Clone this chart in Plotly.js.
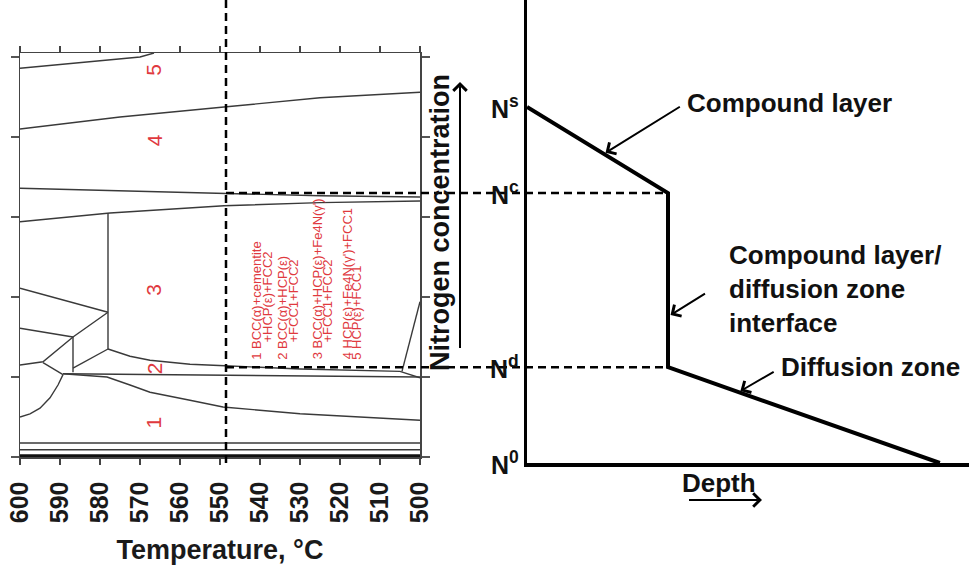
<!DOCTYPE html>
<html><head><meta charset="utf-8">
<script src="https://cdn.plot.ly/plotly-3.0.1.min.js"></script>
<style>html,body{margin:0;padding:0;background:#fff}#chart{width:969px;height:566px}</style>
</head><body><div id="chart"></div>
<script>
// ================= DATA =================
const tempTicks = [600,590,580,570,560,550,540,530,520,510,500];
const levelTicks = [0,1,2,3,4,5];
const sectionTemp = 548.5;            // dashed isothermal section
// phase boundaries: temperature (°C) and nitrogen level (arbitrary units)
const b1T=[600,570,566.5],               b1N=[4.86,5.0,5.05];
const b2T=[600,575,549,525,500],         b2N=[4.10,4.25,4.375,4.49,4.56];
const b3T=[600,575,549,525,500],         b3N=[3.36,3.33,3.29,3.265,3.25];
const b4T=[600,577.5,549,525,500],       b4N=[2.94,3.05,3.14,3.18,3.20];
const b5T=[578,578],                     b5N=[3.05,1.35];
const b6T=[600,578],                     b6N=[2.11,1.81];
const b7T=[600,586.75],                  b7N=[1.61,1.50];
const b8T=[578,586.75,594.25,600],       b8N=[1.81,1.50,1.19,1.15];
const b9T=[586.75,586.75],               b9N=[1.50,1.06];
const b10T=[594.25,589.25],              b10N=[1.18,1.03];
const b11T=[578,586.75],                 b11N=[1.35,1.11];
const b12T=[589.25,590.5,592.5,595,597.5,600], b12N=[1.03,0.90,0.74,0.61,0.54,0.50];
const b13T=[578,572.5,567.5,557.5,548.75,530,505,500], b13N=[1.35,1.26,1.21,1.16,1.14,1.10,1.07,0.99];
const b14T=[504.5,500],                  b14N=[1.07,1.94];
const b15T=[589.25,500],                 b15N=[1.04,1.0];
const b16T=[589.25,578.25,572.5,567.5,557.5,549.25,530,500], b16N=[1.04,1.0,0.90,0.81,0.71,0.625,0.54,0.46];
const b17T=[600,500],                    b17N=[0.175,0.175];
const b18T=[600,500],                    b18N=[0.09,0.09];
const b19T=[600,500],                    b19N=[0.015,0.015];
const regionIds=['1','2','3','4','5'];
const regionT=[566.5,566.5,566.5,566.5,566.5];
const regionN=[0.43,1.11,2.09,3.96,4.84];
const phaseKey=['1 BCC(α)+cementite','+HCP(ε)+FCC2','2 BCC(α)+HCP(ε)','+FCC1+FCC2',
  "3 BCC(α)+HCP(ε)+Fe4N(γ')",'+FCC1+FCC2',"4 HCP(ε)+Fe4N(γ')+FCC1",'5 HCP(ε)+FCC1'];
const phaseKeyT=[540.75,538.25,534.25,531.75,525.75,523.25,518.25,515.75];
const phaseKeyN=[1.19,1.40,1.19,1.40,1.19,1.40,1.19,1.19];
// nitrogen concentration profile vs depth (arbitrary units)
const depth=[0,3.19,3.19,9.34];
const nitrogen=[7.69,5.83,2.07,0];
const levelLabels=['N<sup>s</sup>','N<sup>c</sup>','N<sup>d</sup>','N<sup>0</sup>'];

// ================= CHART =================
const FONT='Liberation Sans, Arial, sans-serif';
const lineCol='#3a3a3a', red='#e0393e';
const boundaries=[[b1T,b1N],[b2T,b2N],[b3T,b3N],[b4T,b4N],[b5T,b5N],[b6T,b6N],[b7T,b7N],[b8T,b8N],
  [b9T,b9N],[b10T,b10N],[b11T,b11N],[b12T,b12N],[b13T,b13N],[b14T,b14N],[b15T,b15N],[b16T,b16N],[b17T,b17N],[b18T,b18N]];
const traces=boundaries.map(b=>({x:b[0],y:b[1],type:'scatter',mode:'lines',xaxis:'x',yaxis:'y',
  line:{color:lineCol,width:1.4},hoverinfo:'skip'}));
traces.push({x:b19T,y:b19N,type:'scatter',mode:'lines',xaxis:'x',yaxis:'y',line:{color:'#111',width:3},hoverinfo:'skip'});
traces.push({x:depth,y:nitrogen,type:'scatter',mode:'lines',xaxis:'x2',yaxis:'y2',line:{color:'#000',width:4},hoverinfo:'skip'});

const W=969,H=566;
const xa={domain:[20/W,420/W],range:[600,500]};
const ya={domain:[109/H,513/H],range:[0,5.05]};
const x2a={domain:[527/W,1],range:[0,10]};
const y2a={domain:[103/H,1],range:[0,10]};
const toPaper=(ax,v)=>ax.domain[0]+(v-ax.range[0])/(ax.range[1]-ax.range[0])*(ax.domain[1]-ax.domain[0]);
const interp=(xs,ys,i,t)=>[xs[i]+(xs[i+1]-xs[i])*t, ys[i]+(ys[i+1]-ys[i])*t];

const annotations=[];
regionIds.forEach((r,i)=>annotations.push({x:regionT[i],y:regionN[i],xref:'x',yref:'y',text:r,showarrow:false,
  textangle:-90,font:{family:FONT,size:21,color:red}}));
phaseKey.forEach((t,i)=>annotations.push({x:phaseKeyT[i],y:phaseKeyN[i],xref:'x',yref:'y',text:t,showarrow:false,
  textangle:-90,xanchor:'center',yanchor:'bottom',font:{family:FONT,size:13,color:red}}));
levelLabels.forEach((t,i)=>annotations.push({x:0,y:nitrogen[i],xref:'x2',yref:'y2',
  text:t,showarrow:false,xanchor:'right',yanchor:'middle',xshift:-6,font:{family:FONT,size:25,weight:700,color:'#111'}}));
const big={family:FONT,size:26,weight:700,color:'#111'};
annotations.push({x:685/W,y:1-103/H,xref:'paper',yref:'paper',text:'Compound layer',showarrow:false,xanchor:'left',yanchor:'middle',font:big});
annotations.push({x:727/W,y:1-289/H,xref:'paper',yref:'paper',text:'Compound layer/<br>diffusion zone<br>interface',align:'left',showarrow:false,xanchor:'left',yanchor:'middle',font:big});
annotations.push({x:779/W,y:1-367/H,xref:'paper',yref:'paper',text:'Diffusion zone',showarrow:false,xanchor:'left',yanchor:'middle',font:big});
annotations.push({x:719/W,y:1-483/H,xref:'paper',yref:'paper',text:'Depth',showarrow:false,xanchor:'center',yanchor:'middle',font:big});
annotations.push({x:440/W,y:1-223/H,xref:'paper',yref:'paper',text:'Nitrogen concentration',showarrow:false,textangle:-90,font:{family:FONT,size:27,weight:700,color:'#111'}});
// arrows
const arrowStyle={showarrow:true,arrowhead:4,arrowsize:1.3,arrowwidth:2,arrowcolor:'#000'};
const p1=interp(depth,nitrogen,0,0.545);
annotations.push(Object.assign({x:p1[0],y:p1[1],xref:'x2',yref:'y2',text:' ',ax:79,ay:-49,standoff:2},arrowStyle));
const p2=interp(depth,nitrogen,1,0.71);
annotations.push(Object.assign({x:p2[0],y:p2[1],xref:'x2',yref:'y2',text:' ',ax:40,ay:-25,standoff:3},arrowStyle));
const p3=interp(depth,nitrogen,2,0.26);
annotations.push(Object.assign({x:p3[0],y:p3[1],xref:'x2',yref:'y2',text:' ',ax:38,ay:-22,standoff:2},arrowStyle));
annotations.push(Object.assign({x:460/W,y:1-82/H,xref:'paper',yref:'paper',text:' ',ax:0,ay:276},arrowStyle));
annotations.push(Object.assign({x:762/W,y:1-500/H,xref:'paper',yref:'paper',text:' ',ax:-76,ay:0},arrowStyle));

const dash={color:'#000',width:2.5,dash:'8px,5px'};
const shapes=[
  {type:'line',xref:'x',yref:'paper',x0:sectionTemp,x1:sectionTemp,y0:1-463/H,y1:1,line:dash},
  {type:'line',xref:'paper',yref:'y2',x0:toPaper(xa,sectionTemp),x1:toPaper(x2a,depth[1]),y0:nitrogen[1],y1:nitrogen[1],line:dash},
  {type:'line',xref:'paper',yref:'y2',x0:toPaper(xa,sectionTemp),x1:toPaper(x2a,depth[2]),y0:nitrogen[2],y1:nitrogen[2],line:dash}
];

const layout={width:W,height:H,margin:{l:0,r:0,t:0,b:0},paper_bgcolor:'#fff',plot_bgcolor:'rgba(0,0,0,0)',showlegend:false,
  xaxis:{domain:xa.domain,range:xa.range,anchor:'y',tickvals:tempTicks,ticks:'outside',ticklen:6,tickwidth:1.3,tickcolor:'#444',
    mirror:'ticks',showline:true,linecolor:'#444',linewidth:1.5,showgrid:false,zeroline:false,tickangle:-90,ticklabelstandoff:7,
    tickfont:{family:FONT,size:25,weight:700,color:'#1a1a1a'},
    title:{text:'Temperature, °C',font:{family:FONT,size:27,weight:700,color:'#1a1a1a'},standoff:18}},
  yaxis:{domain:ya.domain,range:ya.range,anchor:'x',tickvals:levelTicks,ticks:'outside',ticklen:8,tickwidth:1.3,tickcolor:'#555',
    mirror:'ticks',showline:true,linecolor:'#444',linewidth:1.5,showticklabels:false,showgrid:false,zeroline:false},
  xaxis2:{domain:x2a.domain,range:x2a.range,anchor:'y2',showline:true,linecolor:'#000',linewidth:3.5,showticklabels:false,ticks:'',showgrid:false,zeroline:false},
  yaxis2:{domain:y2a.domain,range:y2a.range,anchor:'x2',showline:true,linecolor:'#000',linewidth:3.5,showticklabels:false,ticks:'',showgrid:false,zeroline:false},
  annotations:annotations,shapes:shapes};
Plotly.newPlot('chart',traces,layout,{staticPlot:true,displayModeBar:false});
</script></body></html>
